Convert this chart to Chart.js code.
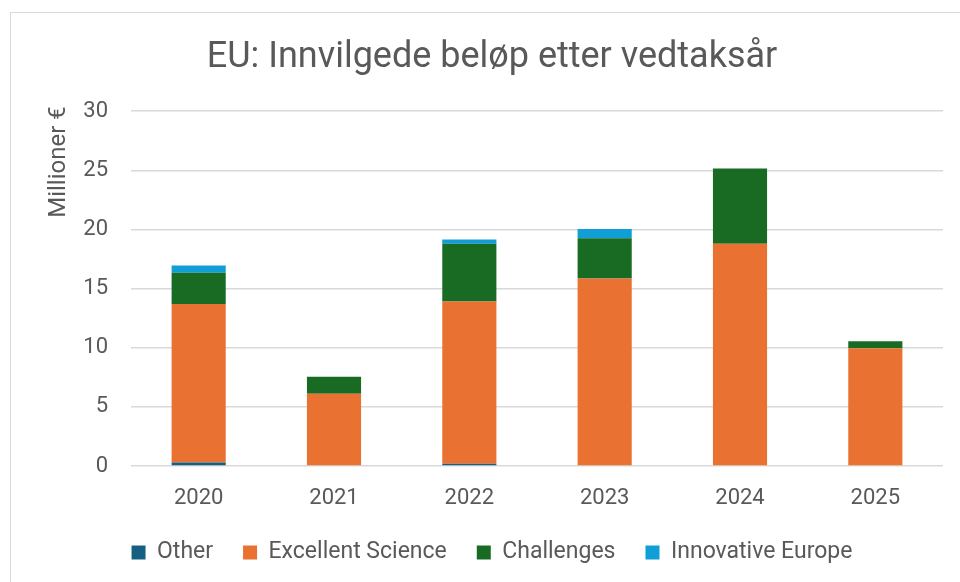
<!DOCTYPE html>
<html>
<head>
<meta charset="utf-8">
<script src="https://cdn.jsdelivr.net/npm/chart.js@4"></script>
<style>
  html, body { margin: 0; padding: 0; background: #fff; overflow: hidden; }
  #frame {
    position: absolute; left: 10px; top: 12px;
    width: 960px; height: 590px;
    border: 1px solid #d9d9d9; box-sizing: border-box;
  }
  #wrap { position: absolute; left: 0; top: 0; width: 950px; height: 561px; }
</style>
</head>
<body>
<div id="frame"><div id="wrap"><canvas id="chart"></canvas></div></div>
<script>
// ---------------------------------------------------------
// DATA (millioner €)
// ---------------------------------------------------------
const years = ["2020", "2021", "2022", "2023", "2024", "2025"];
const other = [0.3, 0, 0.2, 0, 0, 0];
const excellentScience = [13.4, 6.1, 13.7, 15.85, 18.8, 9.95];
const challenges = [2.65, 1.45, 4.9, 3.4, 6.35, 0.6];
const innovativeEurope = [0.6, 0, 0.35, 0.8, 0, 0];

const TEXT = "#595959";
const FONT = "Roboto, 'Open Sans', sans-serif";

function series(label, data, color) {
  return {
    label: label,
    data: data,
    backgroundColor: color,
    borderWidth: 0,
    barPercentage: 0.4,
    categoryPercentage: 1
  };
}

// y-axis title sits near the top of the axis, like in Excel
const axisTitle = {
  id: "axisTitle",
  afterDraw(chart) {
    const ctx = chart.ctx;
    ctx.save();
    ctx.translate(48, 149);
    ctx.rotate(-Math.PI / 2);
    ctx.fillStyle = TEXT;
    ctx.font = "24px " + FONT;
    ctx.textAlign = "center";
    ctx.textBaseline = "middle";
    ctx.fillText("Millioner €", 0, 0);
    ctx.restore();
  }
};

new Chart(document.getElementById("chart"), {
  type: "bar",
  data: {
    labels: years,
    datasets: [
      series("Other", other, "#156082"),
      series("Excellent Science", excellentScience, "#E97132"),
      series("Challenges", challenges, "#196B24"),
      series("Innovative Europe", innovativeEurope, "#0F9ED5")
    ]
  },
  options: {
    responsive: true,
    maintainAspectRatio: false,
    animation: false,
    layout: { padding: { left: 30, right: 18, top: 16, bottom: 0 } },
    plugins: {
      title: {
        display: true,
        text: "EU: Innvilgede beløp etter vedtaksår",
        color: TEXT,
        font: { family: FONT, size: 36, weight: "normal" },
        padding: { top: 7, bottom: 32 }
      },
      legend: {
        position: "bottom",
        labels: {
          color: TEXT,
          font: { family: FONT, size: 23 },
          boxWidth: 14,
          boxHeight: 14,
          padding: 30
        }
      },
      tooltip: { enabled: false }
    },
    scales: {
      x: {
        stacked: true,
        grid: { display: false },
        border: { display: false },
        ticks: { color: TEXT, font: { family: FONT, size: 22 }, padding: 11 },
        afterFit(scale) { scale.height = 45; }
      },
      y: {
        stacked: true,
        min: 0,
        max: 30,
        ticks: { stepSize: 5, color: TEXT, font: { family: FONT, size: 22 }, padding: 23 },
        grid: { color: "#d9d9d9", lineWidth: 1.5, drawTicks: false },
        border: { display: false },
        afterFit(scale) { scale.width = 90; }
      }
    }
  },
  plugins: [axisTitle]
});
</script>
</body>
</html>
